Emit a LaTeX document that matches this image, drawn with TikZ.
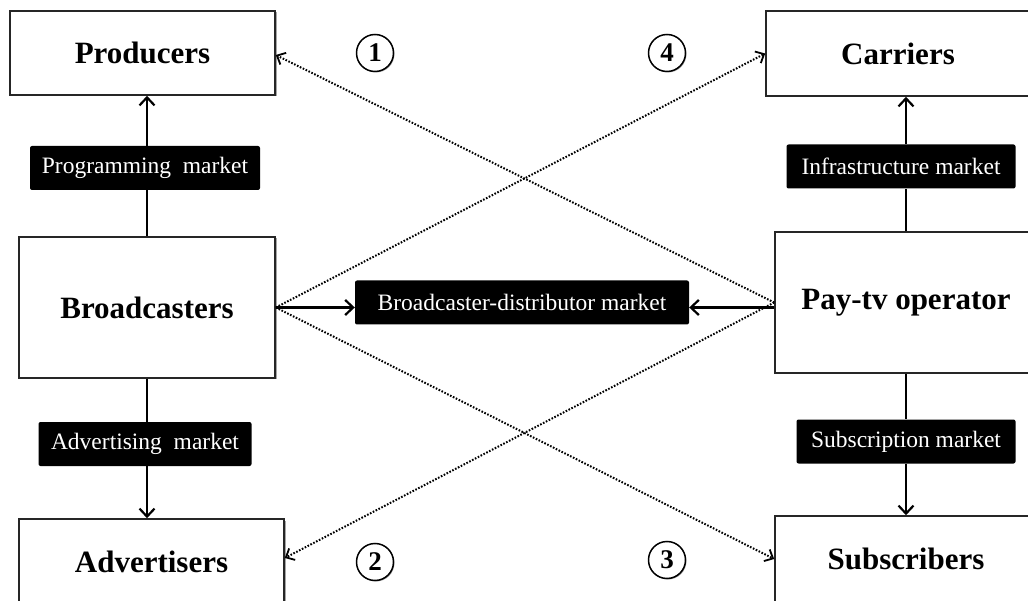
\documentclass[tikz,border=0pt]{standalone}
\usepackage{fontspec}
\setmainfont{Liberation Serif}
\usetikzlibrary{arrows.meta,shadows,calc}

\tikzset{
  actor/.style={draw=black!85, line width=1.6pt, fill=white,
    font=\fontsize{31}{36}\selectfont\bfseries, inner sep=0pt,
    drop shadow={shadow xshift=1.5pt, shadow yshift=-1.5pt, fill=black, opacity=0.35}},
  market/.style={fill=black, rounded corners=2pt, text=white,
    font=\fontsize{23.5}{27}\selectfont, inner xsep=11pt, minimum height=44pt},
  tag/.style={circle, draw=black, line width=1.5pt, fill=white, minimum size=37pt,
    inner sep=0pt, font=\fontsize{27}{30}\selectfont\bfseries,
    drop shadow={shadow xshift=1pt, shadow yshift=-1pt, fill=black, opacity=0.35}},
  flow/.style={line width=2.2pt, -{Straight Barb[length=8pt,width=15pt,line width=2.2pt]}},
  link/.style={line width=2.2pt},
  cross/.style={line width=2pt, dash pattern=on 1.6pt off 1.6pt,
    -{Straight Barb[length=7pt,width=13pt,line width=1.8pt]}}
}

\begin{document}
\begin{tikzpicture}[x=1pt, y=-1pt]
  \path[fill=white] (0,0) rectangle (1028,601);
  \clip (0,0) rectangle (1028,601);
  \useasboundingbox (0,0) rectangle (1028,601);

  % market participants
  \node[actor, minimum width=265pt, minimum height=84pt]  (pro) at (142.5,53)  {Producers};
  \node[actor, minimum width=264pt, minimum height=85pt]  (car) at (898,53.5)  {Carriers};
  \node[actor, minimum width=256pt, minimum height=141pt] (bro) at (147,307.5) {Broadcasters};
  \node[actor, minimum width=262pt, minimum height=141pt] (pay) at (906,302.5) {Pay-tv operator};
  \node[actor, minimum width=265pt, minimum height=86pt]  (adv) at (151.5,562) {Advertisers};
  \node[actor, minimum width=262pt, minimum height=86pt]  (sub) at (906,559)   {Subscribers};

  % markets between them
  \node[market, minimum width=230pt] (prog)  at (145,168)   {Programming\ \ market};
  \node[market, minimum width=229pt] (infra) at (901,166.5) {Infrastructure market};
  \node[market, minimum width=334pt] (dist)  at (522,302.5) {Broadcaster-distributor market};
  \node[market, minimum width=213pt] (adm)   at (145,444)   {Advertising\ \ market};
  \node[market, minimum width=219pt] (subm)  at (906,441.5) {Subscription market};

  % numbered cross relations
  \node[tag] (t1) at (375,53)  {1};
  \node[tag] (t4) at (667,53)  {4};
  \node[tag] (t2) at (375,562) {2};
  \node[tag] (t3) at (667,560) {3};

  % vertical market links
  \draw[link] (bro.north) -- (bro.north |- prog.south);
  \draw[flow] (bro.north |- prog.north) -- (bro.north |- pro.south);
  \draw[link] (bro.south) -- (bro.south |- adm.north);
  \draw[flow] (bro.south |- adm.south) -- (bro.south |- adv.north);
  \draw[link] (pay.north) -- (pay.north |- infra.south);
  \draw[flow] (pay.north |- infra.north) -- (pay.north |- car.south);
  \draw[link] (pay.south) -- (pay.south |- subm.north);
  \draw[flow] (pay.south |- subm.south) -- (pay.south |- sub.north);

  % horizontal links into the broadcaster-distributor market
  \draw[flow] (bro.east) -- (bro.east -| dist.west);
  \draw[flow] (pay.west |- bro.east) -- (dist.east |- bro.east);

  % dotted cross relations
  \draw[cross] (pay.west) -- ([yshift=-2pt]pro.east);
  \draw[cross] (bro.east) -- (car.west);
  \draw[cross] (bro.east) -- (sub.west);
  \draw[cross] (pay.west) -- ([yshift=4pt]adv.east);
\end{tikzpicture}
\end{document}
